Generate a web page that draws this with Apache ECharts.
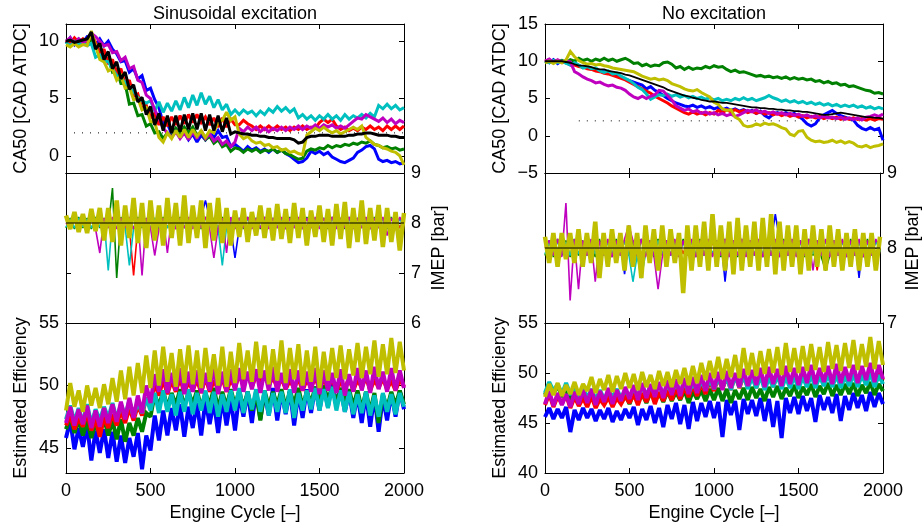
<!DOCTYPE html>
<html><head><meta charset="utf-8">
<script src="https://cdn.jsdelivr.net/npm/echarts@6/dist/echarts.min.js"></script>
<style>html,body{margin:0;padding:0;background:#fff}#c{width:923px;height:527px}</style>
</head><body><div id="c"></div>
<script>
// ---------- x positions (engine cycle) ----------
const cycles = [0,25,50,75,100,125,150,175,200,225,250,275,300,325,350,375,400,425,450,475,500,525,550,575,600,625,650,675,700,725,750,775,800,825,850,875,900,925,950,975,1000,1025,1050,1075,1100,1125,1150,1175,1200,1225,1250,1275,1300,1325,1350,1375,1400,1425,1450,1475,1500,1525,1550,1575,1600,1625,1650,1675,1700,1725,1750,1775,1800,1825,1850,1875,1900,1925,1950,1975,2000];

// ---------- tick labels ----------
const cycleTicks = [0,500,1000,1500,2000];
const caSinTicks = [0,5,10];
const caNoTicks = [-5,0,5,10,15];
const imepSinTicks = [6,7,8,9];
const imepNoTicks = [7,8,9];
const effSinTicks = [45,50,55];
const effNoTicks = [40,45,50,55];

// ---------- titles / names ----------
const titles = ['Sinusoidal excitation','No excitation'];
const caName = 'CA50 [CAD ATDC]';
const imepName = 'IMEP [bar]';
const effName = 'Estimated Efficiency';
const cycleName = 'Engine Cycle [\u2013]';

// ---------- reference lines ----------
const sinTargetCycles = [0,2000];
const sinTarget = [2,2];
const noTargetCycles = [200,2000];
const noTarget = [2,2];
const imepRefCycles = [0,2000];
const imepRef = [8,8];

// ---------- CA50, sinusoidal excitation ----------
const sinCaBlack = [10.0,10.1,9.9,10.0,10.1,10.2,10.8,9.3,9.8,8.4,
 9.1,7.6,8.2,6.7,7.3,5.8,6.2,4.7,5.1,3.6,
 4.3,2.7,3.7,2.2,3.5,2.0,3.5,2.1,3.6,2.3,
 3.7,2.3,3.7,2.2,3.6,2.2,3.5,2.1,3.3,1.9,
 2.1,2.0,1.9,1.9,1.8,1.8,1.7,1.7,1.6,1.6,
 1.5,1.5,1.5,1.5,1.4,1.1,1.2,1.6,1.7,1.7,
 1.8,1.8,1.8,1.7,1.7,1.7,1.7,1.8,1.8,1.9,
 1.9,2.0,2.0,1.9,1.8,1.8,1.8,1.7,1.7,1.6,
 1.6];
const sinCaBlue = [9.8,10.3,9.7,10.2,9.9,10.4,10.3,9.7,10.2,9.6,
 10.0,9.3,8.9,8.2,8.3,7.3,7.6,6.7,7.0,5.7,
 5.9,4.9,4.2,2.8,2.8,1.9,2.3,1.6,2.1,1.4,
 1.9,1.2,1.8,1.4,2.1,1.6,2.2,1.6,1.7,0.8,
 1.0,0.7,0.4,0.8,0.5,0.7,0.4,0.6,0.3,0.6,
 0.3,0.5,0.2,0.0,-0.3,-0.6,-0.5,-0.2,0.4,0.2,
 0.4,0.1,0.3,-0.1,-0.3,-0.5,-0.6,-0.4,-0.2,0.3,
 0.5,0.8,0.9,0.6,-0.3,-0.5,-0.4,-0.6,-0.5,-0.7,
 -0.6];
const sinCaGreen = [10.0,9.7,10.1,9.8,10.0,9.7,10.2,9.4,9.2,8.4,
 8.5,7.3,7.5,6.3,6.3,4.5,4.6,3.5,3.6,2.6,
 2.8,2.0,2.1,1.5,2.0,1.7,2.4,1.9,2.5,2.0,
 2.5,1.8,2.1,1.4,1.7,1.1,1.4,0.8,1.0,0.4,
 0.7,0.6,0.3,0.6,0.4,0.6,0.3,0.5,0.4,0.6,
 0.3,0.5,0.2,0.1,-0.1,-0.3,-0.2,0.4,0.6,0.5,
 0.7,0.6,0.9,0.7,0.9,0.8,1.0,0.9,1.1,1.0,
 1.2,1.1,1.3,1.0,0.9,0.7,0.8,0.6,0.7,0.5,
 0.6];
const sinCaRed = [10.1,9.8,10.3,9.9,10.2,9.8,10.6,9.9,8.9,9.3,
 8.0,8.4,7.2,7.6,6.2,6.6,5.2,5.4,4.1,4.4,
 3.3,3.7,2.7,3.4,2.6,3.4,2.7,3.5,2.8,3.6,
 2.9,3.6,2.9,3.4,2.7,3.3,2.5,3.3,2.5,3.2,
 2.7,2.7,3.1,2.8,2.6,2.3,2.6,2.3,2.6,2.3,
 2.6,2.3,2.5,2.2,2.5,2.3,2.6,2.3,2.5,2.4,
 2.9,3.2,2.9,3.2,2.6,2.3,2.5,2.2,2.4,2.2,
 2.5,2.3,2.6,2.3,2.5,2.2,2.6,2.3,2.6,2.3,
 2.6];
const sinCaCyan = [9.9,9.6,10.0,9.7,9.9,9.6,9.8,8.6,8.8,8.3,
 8.2,7.6,7.0,6.8,6.4,6.0,5.6,5.1,4.8,4.6,
 4.8,3.9,4.7,3.8,4.6,3.9,4.8,4.0,5.1,4.2,
 5.3,4.4,5.5,4.5,5.2,4.2,4.9,4.0,4.5,3.6,
 4.0,3.6,4.0,3.7,3.9,3.5,3.9,3.6,4.1,3.8,
 4.3,3.9,4.2,3.8,4.1,3.3,3.6,3.2,3.5,3.1,
 3.5,3.2,3.6,3.2,3.5,3.1,3.6,3.2,3.5,3.3,
 3.6,3.3,3.7,3.4,4.4,4.1,4.5,4.1,4.4,4.0,
 4.2];
const sinCaMagenta = [10.0,10.3,9.8,10.2,9.9,10.1,10.7,10.4,10.0,9.6,
 9.7,9.0,9.1,8.3,8.6,7.6,7.8,6.6,6.4,5.3,
 5.0,4.0,3.3,2.4,2.0,1.6,2.1,1.5,2.0,1.4,
 2.1,1.5,2.2,1.5,1.9,1.3,1.6,1.0,1.3,0.8,
 1.2,2.4,2.1,2.5,2.2,2.5,2.1,2.4,2.1,2.4,
 2.2,2.5,2.2,2.5,2.3,2.6,2.3,2.6,2.4,2.7,
 2.4,2.7,2.5,2.7,2.4,2.6,2.4,2.7,3.0,3.3,
 3.2,3.6,3.4,3.2,3.0,3.3,2.9,3.2,2.8,3.1,
 2.9];
const sinCaYellow = [9.7,9.5,9.8,9.5,9.7,9.6,10.9,9.6,8.4,8.2,
 7.4,7.6,6.6,7.0,5.9,6.0,4.9,5.0,4.0,4.2,
 3.0,2.9,1.6,1.2,2.0,1.5,2.2,1.6,2.3,1.6,
 2.3,1.7,2.2,1.6,2.2,2.0,3.0,3.1,3.8,3.1,
 3.4,1.9,1.5,1.7,1.3,1.1,1.2,0.9,1.0,0.7,
 0.8,0.5,0.6,0.3,0.4,0.2,0.1,1.8,2.1,2.4,
 2.2,2.5,2.2,2.0,2.2,1.9,2.1,2.3,2.5,2.3,
 2.6,1.6,1.3,1.0,0.9,0.7,0.6,0.4,0.3,0.0,
 -0.8];

// ---------- CA50, no excitation ----------
const noCaBlack = [10.0,10.0,10.0,10.0,10.0,9.9,9.8,9.6,9.4,9.4,
 9.3,9.2,9.0,8.9,8.9,8.7,8.6,8.5,8.4,8.2,
 8.1,7.9,7.7,7.5,7.3,7.1,6.9,6.7,6.5,6.2,
 6.0,5.8,5.6,5.4,5.3,5.1,5.0,4.8,4.7,4.6,
 4.6,4.5,4.4,4.4,4.3,4.2,4.1,4.0,3.9,3.8,
 3.8,3.7,3.7,3.6,3.6,3.5,3.5,3.4,3.4,3.3,
 3.3,3.2,3.2,3.1,3.0,2.9,2.8,2.8,2.9,3.0,
 3.1,3.0,2.9,2.8,2.7,2.6,2.5,2.5,2.4,2.4,
 2.3];
const noCaBlue = [10.1,9.8,10.2,9.7,10.1,9.8,9.5,9.8,9.4,9.2,
 9.3,9.0,8.9,8.7,8.6,8.4,8.2,8.0,7.8,7.6,
 7.4,7.2,7.0,6.8,6.3,6.6,6.1,5.8,5.4,5.0,
 4.7,4.4,4.2,4.0,3.9,4.1,3.8,4.0,3.7,3.9,
 3.6,3.8,3.5,3.7,3.4,3.6,3.3,3.5,3.2,3.4,
 3.0,3.3,2.7,2.4,2.9,3.1,2.9,3.1,2.8,3.0,
 2.6,2.2,1.6,1.3,1.6,2.4,2.8,3.1,3.4,3.0,
 2.7,2.5,2.3,2.1,1.4,1.0,0.8,1.1,0.8,1.0,
 -0.6];
const noCaGreen = [10.0,9.8,10.1,9.9,10.1,9.8,10.2,10.0,10.4,10.1,
 10.3,10.0,10.3,10.1,10.4,10.1,10.3,10.0,10.2,10.4,
 10.1,9.7,9.8,9.4,9.6,9.3,9.5,9.4,9.8,9.9,
 9.6,9.1,9.3,8.9,9.2,8.9,9.1,9.0,9.3,9.1,
 9.4,9.2,9.3,8.9,8.6,8.8,8.5,8.6,8.4,8.2,
 8.0,8.1,7.9,8.0,7.8,7.9,7.7,7.9,7.6,7.8,
 7.6,7.7,7.5,7.6,7.3,7.4,7.1,7.3,7.0,7.1,
 6.8,6.9,6.6,6.7,6.5,6.3,6.1,6.0,5.7,5.8,
 5.6];
const noCaRed = [10.0,10.2,9.9,10.1,9.8,9.9,9.6,9.5,9.3,9.2,
 9.0,8.9,8.7,8.6,8.4,8.3,8.1,7.9,7.7,7.5,
 7.2,6.9,6.6,6.3,6.0,5.7,5.3,5.0,4.7,4.4,
 4.0,3.7,3.4,3.1,2.9,3.2,2.9,3.1,2.8,3.1,
 2.9,3.4,3.1,3.5,3.2,3.5,3.2,3.4,3.1,3.3,
 3.0,3.2,2.9,3.1,2.8,3.0,2.7,2.9,2.6,2.8,
 2.5,2.7,2.4,2.6,2.4,2.6,2.3,2.5,2.3,2.5,
 2.2,2.4,2.2,2.4,2.2,2.3,2.1,2.3,2.1,2.3,
 2.2];
const noCaCyan = [10.0,9.8,10.1,9.8,10.0,9.7,9.5,9.8,9.5,9.1,
 9.3,9.0,9.1,8.7,8.5,8.7,8.3,8.4,8.0,7.7,
 7.4,7.0,6.5,6.2,5.6,4.9,5.2,5.5,5.4,5.6,
 5.3,5.5,5.2,5.4,5.1,5.3,5.0,5.2,4.9,5.1,
 4.8,5.0,4.7,4.9,4.7,5.0,4.8,5.1,4.8,5.0,
 4.7,4.9,5.1,5.4,5.1,4.9,4.6,4.8,4.5,4.7,
 4.4,4.6,4.3,4.5,4.2,4.4,4.1,4.3,4.0,4.2,
 3.9,4.1,3.9,4.1,3.8,4.0,3.7,3.9,3.6,3.8,
 3.6];
const noCaMagenta = [10.0,10.3,9.8,10.2,9.9,10.1,9.9,8.6,8.3,7.9,
 7.6,7.4,7.1,7.2,6.9,6.7,6.8,6.5,6.4,6.1,
 5.6,5.2,5.0,5.3,5.0,5.3,5.5,6.1,6.0,5.4,
 4.8,4.0,3.7,3.4,3.6,3.2,3.4,3.0,3.2,2.9,
 3.1,2.8,3.0,2.7,2.9,2.6,2.8,3.1,3.4,3.2,
 3.5,3.1,3.3,3.0,3.2,2.9,3.1,2.8,3.0,2.7,
 2.9,2.6,2.8,2.5,2.7,2.4,2.6,2.4,2.5,2.3,
 2.5,2.2,2.4,2.2,2.4,2.1,2.5,2.6,2.8,2.6,
 2.9];
const noCaYellow = [9.8,10.0,9.7,10.0,9.8,10.2,11.3,10.6,10.1,9.8,
 9.6,9.7,9.5,9.6,9.4,9.3,9.1,9.0,8.9,8.8,
 8.7,8.6,8.3,8.0,7.8,7.6,7.7,7.5,7.6,7.4,
 7.0,6.8,6.6,6.3,6.1,6.0,6.2,5.8,5.5,5.2,
 4.5,4.2,3.6,3.4,3.5,2.5,2.2,1.4,1.2,1.3,
 1.6,1.4,1.7,1.5,1.6,1.4,1.1,0.9,0.2,0.0,
 0.6,0.7,-0.2,-0.6,-0.8,-0.7,-0.9,-0.8,-0.6,-0.9,
 -0.7,-1.0,-0.8,-1.0,-1.4,-1.5,-1.3,-1.6,-1.4,-1.3,
 -1.1];

// ---------- IMEP, sinusoidal excitation ----------
const sinImepBlue = [8.1,7.9,8.12,7.88,8.1,7.9,8.12,7.88,8.1,7.9,
 8.1,7.9,8.12,7.88,8.1,7.9,8.12,7.88,8.1,7.9,
 8.1,7.9,8.12,7.88,8.1,7.9,8.12,7.88,8.1,7.9,
 8.1,7.9,8.12,8.45,8.1,7.9,8.12,7.88,8.1,7.9,
 7.3,7.9,8.12,7.88,8.1,7.9,8.12,7.88,8.1,7.9,
 8.1,7.9,8.12,7.88,8.1,7.9,8.12,7.88,8.1,7.9,
 8.1,7.9,8.12,7.88,8.1,7.9,8.12,7.88,8.1,7.9,
 8.1,7.9,8.12,7.88,8.1,7.9,8.12,7.88,8.1,7.9,
 8.05];
const sinImepGreen = [7.9,8.1,7.88,8.12,7.9,8.1,7.88,8.12,7.9,8.1,
 7.9,8.7,6.9,8.12,7.9,8.1,7.88,8.12,7.9,8.1,
 7.9,8.1,7.88,8.12,7.9,8.1,7.88,8.12,7.9,8.1,
 7.9,8.1,7.88,8.12,7.9,8.1,7.88,8.12,7.9,8.1,
 7.9,8.1,7.88,8.12,7.9,8.1,7.88,8.12,7.9,8.1,
 7.9,8.1,7.88,8.12,7.9,8.1,7.88,8.12,7.9,8.1,
 7.9,8.1,7.88,8.12,7.9,8.1,7.88,8.12,7.9,8.1,
 7.9,8.1,7.88,8.12,7.9,8.1,7.88,8.12,7.9,8.1,
 7.95];
const sinImepRed = [8.08,7.92,8.1,7.9,8.08,7.92,8.1,7.9,8.08,7.92,
 8.1,7.9,8.08,7.92,8.1,7.9,6.95,7.92,8.1,7.9,
 8.08,7.92,8.1,7.9,8.08,7.92,8.1,7.9,8.45,7.92,
 8.1,7.9,8.08,7.92,8.1,7.9,8.08,7.92,8.1,7.9,
 8.08,7.92,8.1,7.9,8.08,7.92,8.1,7.9,8.08,7.92,
 8.1,7.9,8.08,7.92,8.1,7.9,8.08,7.92,8.1,7.9,
 8.08,7.92,8.1,7.9,8.08,7.92,8.1,7.9,8.08,7.92,
 8.1,7.9,8.08,7.92,8.1,7.9,8.08,7.92,8.1,7.9,
 8.05];
const sinImepCyan = [7.92,8.08,7.9,8.1,7.92,8.08,7.9,8.1,7.92,8.08,
 7.05,8.08,7.9,8.1,7.92,7.15,7.9,8.1,7.92,8.08,
 7.9,8.1,7.92,8.08,7.9,8.1,7.92,8.08,7.9,8.1,
 7.92,8.08,7.9,8.1,7.92,8.08,7.9,7.15,7.92,8.08,
 7.9,8.1,7.92,8.08,7.9,8.1,7.92,8.08,7.9,8.1,
 7.92,8.08,7.9,8.1,7.92,8.08,7.9,8.1,7.92,8.08,
 7.9,8.1,7.92,8.08,7.9,8.1,7.92,8.08,7.9,8.1,
 7.92,8.08,7.9,8.1,7.92,8.08,7.9,8.1,7.92,8.08,
 7.95];
const sinImepMagenta = [8.0,7.9,8.1,7.88,8.12,7.9,8.1,7.88,7.4,8.1,
 7.9,8.12,7.88,8.1,7.9,8.12,7.88,8.1,6.95,8.1,
 7.9,7.35,7.88,8.1,7.4,8.12,7.88,8.1,7.9,8.12,
 7.88,8.1,7.9,8.12,7.88,7.3,7.9,8.1,7.4,8.12,
 7.88,8.1,7.9,8.12,7.88,8.1,7.9,8.12,7.88,8.1,
 7.9,8.12,7.88,8.1,7.9,8.12,7.88,8.1,7.9,8.12,
 7.88,8.1,7.9,8.12,7.88,8.1,7.9,8.12,7.88,8.1,
 7.9,8.12,7.88,8.1,7.9,8.12,7.75,8.1,7.9,8.12,
 7.95];
const sinImepYellow = [8.15,7.88,8.22,7.82,8.18,7.8,8.28,7.84,8.3,7.65,
 8.3,7.62,8.45,7.55,8.35,7.7,8.5,7.6,8.4,7.5,
 8.45,7.65,8.35,7.55,8.5,7.7,8.4,7.55,8.55,7.6,
 8.35,7.7,8.45,7.5,8.4,7.65,8.5,7.6,8.3,7.55,
 8.25,7.72,8.3,7.62,8.22,7.75,8.35,7.7,8.3,7.65,
 8.38,7.68,8.28,7.6,8.4,7.7,8.3,7.55,8.25,7.72,
 8.35,7.62,8.28,7.55,8.38,7.68,8.42,7.5,8.3,7.62,
 8.45,7.58,8.3,7.65,8.36,7.52,8.3,7.62,8.22,7.45,
 8.2];

// ---------- IMEP, no excitation ----------
const noImepBlue = [8.1,7.9,8.12,7.88,8.1,7.9,8.12,7.88,8.1,7.9,
 8.1,7.9,8.12,7.88,8.1,7.9,8.12,7.88,8.1,7.65,
 8.1,7.9,8.12,7.88,8.1,7.9,8.12,7.88,8.1,7.9,
 8.1,7.9,8.12,7.55,8.1,7.9,8.12,7.88,8.1,7.9,
 8.1,7.9,8.12,7.55,8.1,7.9,8.12,7.88,8.1,7.9,
 8.1,7.9,8.12,7.88,8.1,8.45,8.12,7.88,8.1,7.9,
 8.1,7.9,8.12,7.88,8.1,7.9,8.12,7.88,8.1,7.9,
 8.1,7.9,8.12,7.88,8.1,7.6,8.12,7.88,8.1,7.9,
 7.95];
const noImepGreen = [7.9,8.1,7.88,8.12,7.9,8.1,7.88,8.12,7.9,8.1,
 7.9,8.1,7.88,8.12,7.9,8.1,7.88,8.12,7.9,8.1,
 7.9,8.1,7.88,8.12,7.9,8.1,7.88,8.12,7.9,8.1,
 7.9,8.1,7.88,8.12,7.9,8.1,7.88,8.12,7.9,8.1,
 7.9,8.1,7.88,8.12,7.9,8.1,7.88,8.12,7.9,8.1,
 7.9,8.1,7.88,8.12,7.9,8.1,7.88,8.12,7.9,8.1,
 7.9,8.1,7.88,8.12,7.9,8.1,7.88,7.7,7.9,8.1,
 7.9,8.1,7.88,8.12,7.9,8.1,7.88,8.12,7.9,8.1,
 8.0];
const noImepRed = [8.08,7.92,8.1,7.9,8.08,7.92,8.1,7.9,8.08,7.92,
 8.1,7.9,8.08,7.92,8.1,7.9,8.08,7.92,8.1,7.9,
 8.08,7.92,8.1,7.9,8.08,7.92,8.1,7.9,8.08,7.92,
 8.1,7.9,8.08,7.92,8.1,7.9,8.08,7.92,8.1,7.9,
 8.08,7.92,8.1,7.9,8.08,7.92,8.1,7.9,8.08,7.92,
 8.1,7.9,8.08,7.92,8.1,7.9,8.08,7.92,8.1,7.9,
 8.08,7.92,8.1,7.9,8.08,7.7,8.1,7.9,8.08,7.92,
 8.1,7.9,8.08,7.92,8.1,7.9,8.08,7.92,8.1,7.9,
 8.05];
const noImepCyan = [7.92,8.08,7.9,8.1,7.92,8.08,7.9,8.1,7.92,8.08,
 7.9,8.1,7.92,8.08,7.9,8.1,7.92,8.08,7.9,8.1,
 7.92,7.55,7.9,7.6,7.92,8.08,7.9,8.1,7.92,8.08,
 7.9,8.1,7.92,8.08,7.9,8.1,7.92,8.08,7.9,8.1,
 7.92,8.08,7.9,8.1,7.92,8.08,7.9,8.1,7.92,8.08,
 7.9,8.1,7.92,8.08,7.9,8.1,7.92,8.08,7.9,8.1,
 7.92,8.08,7.9,8.1,7.92,8.08,7.9,8.1,7.92,8.08,
 7.9,8.1,7.92,8.08,7.9,8.1,7.92,8.08,7.9,8.1,
 7.95];
const noImepMagenta = [8.0,8.1,7.9,8.12,7.88,8.6,7.3,8.12,7.45,8.1,
 7.9,8.12,7.55,8.1,7.9,8.12,7.88,8.1,7.9,8.12,
 8.3,8.1,7.9,8.12,7.88,8.1,7.9,7.45,7.88,8.1,
 7.9,8.12,7.88,8.1,7.9,8.12,7.88,8.1,7.9,8.12,
 7.88,8.1,7.9,8.12,7.88,8.1,7.9,8.12,7.88,8.1,
 7.9,8.12,7.88,8.1,7.9,8.12,7.88,8.1,7.9,8.12,
 7.88,8.1,7.9,8.12,7.7,8.1,7.9,8.12,7.88,8.1,
 7.9,8.12,7.88,8.1,7.9,8.12,7.88,8.1,7.9,8.12,
 8.0];
const noImepYellow = [8.15,7.8,8.2,7.75,8.2,7.85,8.2,7.8,8.25,7.75,
 8.2,7.8,8.35,7.6,8.2,7.75,8.25,7.8,8.2,7.7,
 8.3,7.75,8.2,7.6,8.3,7.8,8.25,7.7,8.3,7.75,
 8.25,7.8,8.2,7.4,8.3,7.7,8.3,7.75,8.35,7.7,
 8.45,7.75,8.3,7.7,8.35,7.65,8.4,7.7,8.3,7.75,
 8.35,7.7,8.4,7.75,8.45,7.65,8.35,7.7,8.3,7.75,
 8.3,7.65,8.25,7.7,8.3,7.75,8.25,7.7,8.3,7.75,
 8.25,7.7,8.2,7.75,8.25,7.7,8.2,7.75,8.2,7.7,
 8.15];

// ---------- Estimated efficiency, sinusoidal excitation ----------
const sinEffBlue = [45.8,47.2,44.9,46.6,45.1,46.8,44.0,46.4,44.6,46.5,
 44.2,46.3,43.9,46.0,43.8,45.8,44.3,46.2,43.3,46.0,
 44.8,47.6,45.6,48.0,46.0,48.2,46.4,48.5,45.9,48.3,
 46.6,48.6,46.0,48.8,46.9,48.7,46.2,49.0,46.8,48.9,
 46.4,49.3,47.5,49.5,47.0,49.6,47.3,49.4,47.6,49.8,
 47.2,49.5,47.7,49.6,46.8,49.4,47.4,49.7,47.8,49.9,
 48.0,50.0,48.3,50.1,48.6,49.8,47.9,49.5,47.4,49.3,
 47.0,49.4,46.7,49.2,46.3,49.1,47.2,49.4,47.5,49.6,
 48.1];
const sinEffGreen = [46.5,47.5,46.2,47.3,46.0,47.2,45.8,47.0,46.1,47.4,
 46.0,47.2,45.7,47.3,45.5,47.0,46.0,47.4,46.3,47.8,
 47.5,49.3,48.3,49.6,48.2,49.4,48.4,49.7,48.3,49.5,
 48.5,49.6,48.2,49.4,48.4,49.8,48.1,49.5,48.3,49.7,
 48.4,49.6,48.2,49.5,48.0,49.4,47.2,49.6,48.3,49.5,
 48.4,49.7,48.2,49.6,48.5,49.8,48.3,49.5,48.6,49.9,
 48.7,50.0,48.8,49.9,48.6,49.8,48.5,49.7,48.3,49.6,
 48.1,49.5,47.9,49.4,47.0,49.3,48.2,49.5,48.4,49.6,
 48.5];
const sinEffRed = [46.8,47.6,46.5,47.4,46.7,47.8,46.4,47.3,45.9,47.5,
 46.6,47.7,46.8,48.0,47.0,48.2,47.2,48.4,47.6,49.0,
 48.5,50.2,49.2,50.5,49.3,50.4,49.5,50.6,49.4,50.3,
 49.6,50.5,49.4,50.7,49.5,50.4,49.7,50.6,49.5,50.5,
 49.8,50.9,50.0,51.0,49.9,50.8,50.1,51.1,50.0,50.7,
 49.8,50.6,49.7,50.4,49.8,50.6,49.6,50.5,49.8,50.7,
 49.7,50.5,49.8,50.6,49.5,50.4,49.7,50.6,49.6,50.5,
 49.8,50.7,49.6,50.5,49.8,50.6,49.7,50.4,49.6,50.5,
 49.9];
const sinEffCyan = [47.3,48.4,47.1,48.2,47.0,48.5,46.9,48.1,47.2,48.3,
 47.4,48.6,47.3,48.5,47.6,48.8,47.5,48.7,47.8,49.0,
 48.0,49.4,47.8,49.6,47.9,49.3,47.6,49.5,47.9,49.7,
 47.7,49.4,48.0,49.6,47.8,49.5,47.5,49.3,47.9,49.6,
 48.0,49.8,47.8,49.5,48.1,49.7,47.9,49.6,47.6,49.4,
 47.9,49.5,47.8,49.7,47.4,49.4,48.0,49.6,48.1,49.8,
 48.0,49.7,48.2,49.9,48.0,49.6,47.9,49.5,47.7,49.3,
 47.8,49.5,47.6,49.2,47.5,49.4,47.9,49.3,47.7,49.4,
 48.3];
const sinEffMagenta = [47.0,48.3,46.8,48.1,46.9,48.4,46.6,48.0,46.7,48.2,
 47.0,48.5,47.1,48.7,47.3,49.0,47.4,49.2,47.8,50.0,
 48.6,50.9,49.5,51.3,49.4,51.0,49.6,51.4,49.3,51.1,
 49.5,51.2,49.4,51.0,49.6,51.5,49.3,51.1,49.5,51.3,
 49.6,51.4,49.5,51.1,49.7,51.3,49.4,51.2,49.6,51.5,
 49.5,51.0,49.7,51.3,49.4,51.2,49.6,51.1,49.5,51.4,
 49.3,51.2,49.6,51.0,49.4,51.3,49.2,50.9,49.5,51.4,
 49.6,51.2,49.4,51.5,49.7,51.1,49.5,51.4,49.6,51.2,
 49.8];
const sinEffYellow = [48.0,50.2,48.3,49.6,47.9,50.0,48.4,49.8,48.2,50.1,
 48.5,50.6,48.7,51.2,48.9,51.5,49.2,51.8,49.4,52.4,
 49.8,52.8,50.0,53.1,50.3,52.6,49.9,52.9,50.2,53.2,
 50.1,52.8,49.8,53.0,50.3,52.5,50.0,53.1,49.9,52.7,
 50.2,53.4,50.5,52.8,50.3,53.5,50.6,53.2,50.1,52.9,
 50.4,53.6,50.2,53.0,50.5,53.3,50.0,52.8,50.3,53.1,
 49.8,52.7,50.4,53.0,50.6,53.2,50.5,52.9,50.8,53.4,
 50.6,53.1,50.9,53.6,50.7,53.3,50.9,53.8,51.0,53.5,
 51.2];

// ---------- Estimated efficiency, no excitation ----------
const noEffBlue = [45.6,46.5,45.4,46.4,45.5,46.6,44.1,46.3,45.3,46.5,
 45.5,46.4,45.2,46.3,45.4,46.5,45.1,46.2,45.3,46.4,
 45.5,46.6,44.8,46.4,45.3,46.7,45.0,46.5,44.6,46.8,
 45.4,47.0,44.9,46.8,44.4,47.1,45.2,47.0,45.6,47.2,
 45.5,47.1,43.6,47.3,45.8,47.2,44.3,47.4,45.9,47.3,
 45.7,47.5,45.2,47.4,44.6,47.2,43.5,47.5,46.0,47.6,
 45.9,47.7,46.2,47.5,45.1,47.8,46.3,47.6,46.0,47.9,
 45.2,47.7,46.3,48.0,46.5,47.8,46.2,48.1,46.6,48.0,
 46.9];
const noEffGreen = [47.8,48.9,47.9,48.8,47.6,48.5,47.3,48.2,47.0,48.0,
 46.9,47.9,46.8,47.8,46.9,47.7,46.8,47.9,47.0,47.8,
 46.9,48.0,47.1,47.9,47.0,48.1,47.2,48.0,47.1,48.2,
 47.2,48.1,47.3,48.3,47.0,48.2,47.4,48.3,47.2,48.4,
 47.3,48.5,47.2,48.4,47.0,48.3,47.4,48.5,47.3,48.6,
 47.5,48.4,47.2,48.6,47.6,48.7,47.4,48.5,47.7,48.8,
 47.5,48.6,47.8,48.9,47.6,48.7,47.9,49.0,47.7,48.8,
 47.8,48.9,47.9,49.0,47.7,48.8,48.0,49.1,47.8,48.9,
 48.2];
const noEffRed = [46.8,47.9,46.6,47.7,46.9,47.8,46.5,47.6,46.7,47.5,
 46.6,47.7,46.5,47.4,46.8,47.6,46.6,47.5,46.9,47.7,
 47.0,47.9,46.8,48.0,47.1,48.2,46.9,48.1,47.2,48.3,
 47.3,48.5,47.4,48.6,47.6,48.8,47.7,49.0,47.9,49.2,
 48.2,49.5,48.4,49.6,48.3,49.8,48.5,49.7,48.6,49.9,
 48.5,49.8,48.7,50.0,48.6,49.9,48.8,50.1,48.7,49.9,
 48.9,50.2,48.8,50.0,48.7,50.1,48.9,50.3,48.8,50.0,
 49.0,50.4,48.9,50.2,49.1,50.3,48.9,50.4,49.0,50.2,
 49.3];
const noEffCyan = [48.0,49.1,48.2,48.9,47.9,49.0,47.8,48.7,47.6,48.5,
 47.5,48.4,47.3,48.3,47.4,48.2,47.6,48.4,47.5,48.3,
 47.6,48.5,47.7,48.6,47.8,48.7,47.9,48.8,47.8,48.9,
 48.0,49.0,48.1,49.1,48.0,49.0,48.2,49.2,48.3,49.3,
 48.4,49.5,48.5,49.6,48.3,49.7,48.6,49.8,48.4,49.6,
 48.5,49.7,48.3,49.5,48.6,49.8,48.4,49.6,48.5,49.7,
 48.4,49.6,48.6,49.8,48.5,49.7,48.7,49.9,48.6,49.8,
 48.5,49.7,48.7,49.9,48.6,49.8,48.8,50.0,48.6,49.8,
 48.9];
const noEffMagenta = [46.9,48.2,46.7,48.0,46.8,47.9,46.6,48.1,46.9,48.3,
 47.0,48.4,46.8,48.2,47.1,48.5,46.9,48.3,47.2,48.6,
 47.4,48.8,47.3,49.0,47.5,48.9,47.6,49.1,47.5,49.3,
 47.8,49.4,47.7,49.5,47.9,49.6,48.0,49.8,48.2,50.0,
 48.4,50.1,48.3,50.2,48.5,50.0,48.6,50.4,48.7,50.3,
 48.8,50.5,48.6,50.6,48.9,50.4,48.7,50.7,48.9,50.5,
 48.8,50.6,49.0,50.8,48.9,50.5,49.1,50.7,48.9,50.9,
 49.0,50.6,49.2,50.8,49.0,50.7,49.3,51.0,49.1,50.8,
 49.4];
const noEffYellow = [47.6,48.9,47.8,49.0,47.7,48.8,47.9,49.1,47.8,48.9,
 48.2,49.6,48.0,49.4,48.3,49.8,48.1,49.7,48.4,50.0,
 48.5,49.9,48.3,50.1,48.6,49.8,48.4,50.2,48.7,50.1,
 48.6,50.3,48.9,50.5,48.8,50.7,49.0,51.0,49.3,51.2,
 49.5,51.6,49.4,51.4,49.6,51.8,49.5,52.5,49.8,52.0,
 49.7,52.2,49.9,52.4,50.0,52.6,49.8,53.0,50.1,52.5,
 50.0,52.7,50.2,52.9,50.3,52.6,50.1,53.1,50.4,52.8,
 50.2,53.0,50.5,53.3,50.3,52.9,50.6,53.6,50.4,53.2,
 50.8];

// ---------- sanity check ----------
const allArrays = {sinCaBlack,sinCaBlue,sinCaGreen,sinCaRed,sinCaCyan,sinCaMagenta,sinCaYellow,
 noCaBlack,noCaBlue,noCaGreen,noCaRed,noCaCyan,noCaMagenta,noCaYellow,
 sinImepBlue,sinImepGreen,sinImepRed,sinImepCyan,sinImepMagenta,sinImepYellow,
 noImepBlue,noImepGreen,noImepRed,noImepCyan,noImepMagenta,noImepYellow,
 sinEffBlue,sinEffGreen,sinEffRed,sinEffCyan,sinEffMagenta,sinEffYellow,
 noEffBlue,noEffGreen,noEffRed,noEffCyan,noEffMagenta,noEffYellow};
const bad = Object.keys(allArrays).filter(k => allArrays[k].length !== cycles.length).map(k => k + ':' + allArrays[k].length);
if (bad.length) console.error('Length mismatch: ' + bad.join(', '));

// ---------- styling ----------
const FONT = '"Liberation Sans", Arial, Helvetica, sans-serif';
const FS = 18;
const COL = {blue:'#0000ff', green:'#008000', red:'#ff0000', cyan:'#00bfbf', magenta:'#bf00bf', yellow:'#bfbf00', black:'#000000'};
const fmt = v => String(v).replace('-', '\u2212');

const gridBoxes = [
  {left:66,  top:24,  width:338, height:149},
  {left:66,  top:173, width:338, height:150},
  {left:66,  top:323, width:338, height:150},
  {left:545, top:24,  width:338, height:149},
  {left:545, top:173, width:338, height:150},
  {left:545, top:323, width:338, height:150}
];

const xAxes = [], yAxes = [];
function baseAxis(gi, pos, ticks, showLabels) {
  return {
    type:'value', gridIndex:gi, position:pos,
    axisLine:{show:true, onZero:false, lineStyle:{color:'#000', width:1}},
    axisTick:{show:true, inside:true, length:5, customValues:ticks, lineStyle:{color:'#000', width:1}},
    axisLabel:{show:showLabels, customValues:ticks, color:'#000', fontFamily:FONT, fontSize:FS, margin:7, formatter:fmt},
    splitLine:{show:false}
  };
}
function nameStyle() { return {color:'#000', fontFamily:FONT, fontSize:FS}; }

function addPanel(gi, yMin, yMax, yTicks, o) {
  const xb = baseAxis(gi, 'bottom', cycleTicks, !!o.xLabels);
  xb.min = 0; xb.max = 2000;
  if (o.xLabels) { xb.name = cycleName; xb.nameLocation = 'middle'; xb.nameGap = 31; xb.nameTextStyle = nameStyle(); xb.axisLabel.margin = 9; }
  const xt = baseAxis(gi, 'top', cycleTicks, false); xt.min = 0; xt.max = 2000;
  xAxes.push(xb, xt);
  const yl = baseAxis(gi, 'left', yTicks, !!o.leftLabels); yl.min = yMin; yl.max = yMax;
  if (o.leftName) { yl.name = o.leftName; yl.nameLocation = 'middle'; yl.nameRotate = 90; yl.nameGap = o.leftGap; yl.nameTextStyle = nameStyle(); }
  const yr = baseAxis(gi, 'right', yTicks, !!o.rightLabels); yr.min = yMin; yr.max = yMax;
  if (o.rightName) { yr.name = o.rightName; yr.nameLocation = 'middle'; yr.nameRotate = 90; yr.nameGap = o.rightGap; yr.nameTextStyle = nameStyle(); }
  yAxes.push(yl, yr);
}

addPanel(0, -1.5, 11.5, caSinTicks, {leftLabels:true, leftName:caName, leftGap:36});
addPanel(1, 6, 9, imepSinTicks, {rightLabels:true, rightName:imepName, rightGap:26});
addPanel(2, 43, 55, effSinTicks, {leftLabels:true, leftName:effName, leftGap:36, xLabels:true});
addPanel(3, -5, 15, caNoTicks, {leftLabels:true, leftName:caName, leftGap:36});
addPanel(4, 7, 9, imepNoTicks, {rightLabels:true, rightName:imepName, rightGap:24});
addPanel(5, 40, 55, effNoTicks, {leftLabels:true, leftName:effName, leftGap:36, xLabels:true});

const series = [];
function addLine(gi, xs, ys, color, width, type) {
  series.push({
    type:'line', xAxisIndex:2*gi, yAxisIndex:2*gi,
    data: xs.map((x, i) => [x, ys[i]]),
    showSymbol:false, symbol:'none', silent:true, animation:false, clip:true,
    lineStyle:{color:color, width:width, type:type || 'solid', join:'miter', miterLimit:2},
    itemStyle:{color:color}
  });
}
function addGroup(gi, sets, width) {
  sets.forEach(s => addLine(gi, cycles, s[1], COL[s[0]], s[2] || width));
}

// top row
addLine(0, sinTargetCycles, sinTarget, '#000', 1, [1, 7]);
addGroup(0, [['blue',sinCaBlue],['green',sinCaGreen],['red',sinCaRed],['cyan',sinCaCyan],['magenta',sinCaMagenta],['yellow',sinCaYellow]], 3);
addLine(0, cycles, sinCaBlack, COL.black, 3);
addLine(3, noTargetCycles, noTarget, '#000', 1, [1, 7]);
addGroup(3, [['blue',noCaBlue],['green',noCaGreen],['red',noCaRed],['cyan',noCaCyan],['magenta',noCaMagenta],['yellow',noCaYellow]], 3);
addLine(3, cycles, noCaBlack, COL.black, 1.8);
// middle row
addGroup(1, [['blue',sinImepBlue],['green',sinImepGreen],['red',sinImepRed],['cyan',sinImepCyan],['magenta',sinImepMagenta],['yellow',sinImepYellow,4.5]], 1.6);
addLine(1, imepRefCycles, imepRef, COL.black, 1.2);
addGroup(4, [['blue',noImepBlue],['green',noImepGreen],['red',noImepRed],['cyan',noImepCyan],['magenta',noImepMagenta],['yellow',noImepYellow,4.5]], 1.6);
addLine(4, imepRefCycles, imepRef, COL.black, 1.2);
// bottom row
addGroup(2, [['blue',sinEffBlue],['green',sinEffGreen],['red',sinEffRed],['cyan',sinEffCyan],['magenta',sinEffMagenta],['yellow',sinEffYellow]], 4);
addGroup(5, [['blue',noEffBlue],['green',noEffGreen],['red',noEffRed],['cyan',noEffCyan],['magenta',noEffMagenta],['yellow',noEffYellow]], 4);

const chart = echarts.init(document.getElementById('c'), null, {renderer:'canvas'});
chart.setOption({
  animation:false,
  backgroundColor:'#ffffff',
  textStyle:{fontFamily:FONT},
  grid: gridBoxes.map(g => Object.assign({containLabel:false, show:false}, g)),
  xAxis: xAxes,
  yAxis: yAxes,
  graphic: [
    {type:'text', x:235, y:14, style:{text:titles[0], textAlign:'center', textVerticalAlign:'middle', fill:'#000', font:FS + 'px ' + FONT}},
    {type:'text', x:714, y:14, style:{text:titles[1], textAlign:'center', textVerticalAlign:'middle', fill:'#000', font:FS + 'px ' + FONT}}
  ],
  series: series
});
</script>
</body></html>
